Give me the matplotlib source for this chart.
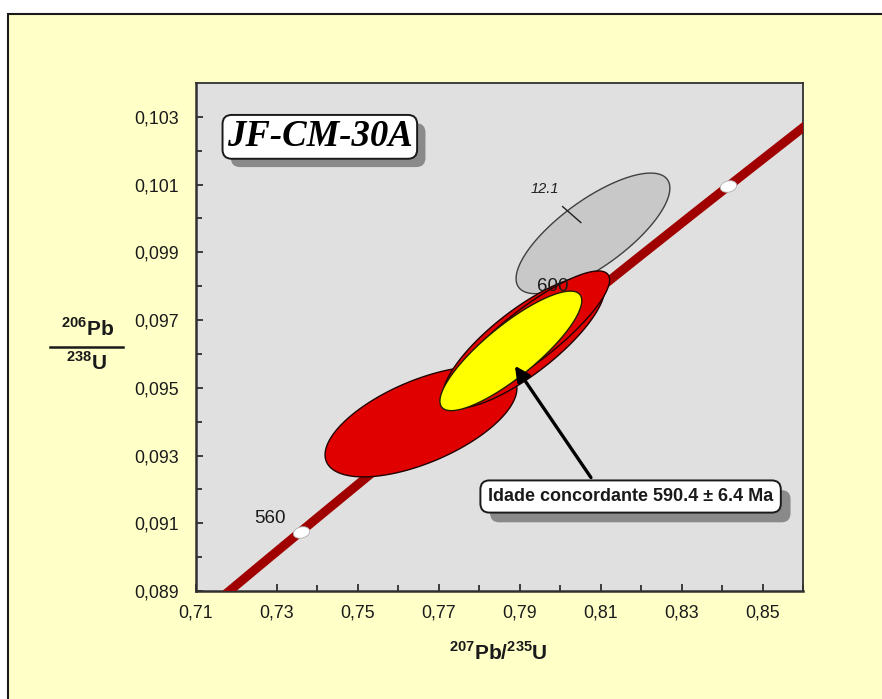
import numpy as np
import matplotlib
matplotlib.use("Agg")
import matplotlib.pyplot as plt
from matplotlib.patches import Rectangle
from matplotlib.lines import Line2D
from matplotlib.markers import MarkerStyle
from matplotlib.transforms import Affine2D
import matplotlib.patheffects as pe

plt.rcParams['font.family'] = ['Liberation Sans', 'DejaVu Sans']
plt.rcParams['mathtext.fontset'] = 'custom'
plt.rcParams['mathtext.rm'] = 'Liberation Sans'
plt.rcParams['mathtext.bf'] = 'Liberation Sans:bold'

# ---------------- data ----------------
x_ticks = [0.71, 0.73, 0.75, 0.77, 0.79, 0.81, 0.83, 0.85]
x_tick_labels = ['0,71', '0,73', '0,75', '0,77', '0,79', '0,81', '0,83', '0,85']
y_ticks = [0.089, 0.091, 0.093, 0.095, 0.097, 0.099, 0.101, 0.103]
y_tick_labels = ['0,089', '0,091', '0,093', '0,095', '0,097', '0,099', '0,101', '0,103']
x_limits = [0.71, 0.86]
y_limits = [0.089, 0.104]

# concordia
lambda_238 = 1.55125e-10
lambda_235 = 9.8485e-10
concordia_ages_ma = np.linspace(500, 700, 400)
marker_ages_ma = [560, 580, 600, 620]
age_labels = ['560', '600']
age_label_x = [0.7283, 0.7982]
age_label_y = [0.09115, 0.0980]

# error ellipses: centre, half-extents, correlation
ell_names = ['12.1', 'red_a', 'red_b', 'red_c', 'concordia_age']
ell_cx = [0.8081, 0.7656, 0.7910, 0.7925, 0.7878]
ell_cy = [0.09956, 0.0940, 0.09635, 0.09655, 0.09609]
ell_hx = [0.0190, 0.0237, 0.0200, 0.0197, 0.01753]
ell_hy = [0.00178, 0.00163, 0.00195, 0.00190, 0.001765]
ell_rho = [0.75, 0.60, 0.80, 0.86, 0.84]
ell_face = ['#C8C8C8', '#E00000', '#E00000', '#E00000', '#FFFF00']
ell_edge = ['#404040', '#200000', '#200000', '#200000', '#202000']
ell_z = [2, 4, 4.3, 4.5, 5]

sample_label = '12.1'
sample_label_xy = (0.7962, 0.10088)
sample_leader_x = [0.8006, 0.8051]
sample_leader_y = [0.10035, 0.09988]

title = 'JF-CM-30A'
title_xy = (0.7406, 0.10241)
result_text = 'Idade concordante 590.4 ± 6.4 Ma'
result_xy = (0.8174, 0.09179)
arrow_tail = (0.8076, 0.09235)
arrow_head = (0.7888, 0.09565)


def ellipse_pts(cx, cy, hx, hy, rho, n=300):
    th = np.linspace(0, 2 * np.pi, n)
    x = cx + hx * np.cos(th)
    y = cy + hy * (rho * np.cos(th) + np.sqrt(1 - rho ** 2) * np.sin(th))
    return x, y


# ---------------- figure ----------------
fig = plt.figure(figsize=(8.82, 6.99), dpi=100, facecolor='white')
frame = Rectangle((8 / 882, -0.02), 1.0, 1 - 14 / 699 + 0.02, transform=fig.transFigure,
                  facecolor='#FFFFC8', edgecolor='#1a1a1a', linewidth=1.5, zorder=-10)
fig.patches.append(frame)

ax = fig.add_axes([196 / 882, 1 - 591 / 699, (803 - 196) / 882, (591 - 83) / 699])
ax.set_facecolor('#E0E0E0')
ax.set_xlim(*x_limits)
ax.set_ylim(*y_limits)

ax.set_xticks(x_ticks)
ax.set_xticklabels(x_tick_labels)
ax.set_yticks(y_ticks)
ax.set_yticklabels(y_tick_labels)
ax.set_xticks(np.arange(0.72, 0.86, 0.02), minor=True)
ax.set_yticks(np.arange(0.090, 0.104, 0.002), minor=True)
ax.tick_params(which='both', direction='in', colors='#202020', labelsize=12.8,
               labelcolor='#1a1a1a')
ax.tick_params(which='major', length=5, width=1.2, pad=10)
ax.tick_params(which='minor', length=4, width=1.2)
ax.tick_params(axis='y', pad=12)
for s in ax.spines.values():
    s.set_color('#303030')
    s.set_linewidth(1.3)
ax.spines['left'].set_linewidth(1.8)
ax.spines['bottom'].set_linewidth(1.8)

# ellipses
for i in range(len(ell_names)):
    ex, ey = ellipse_pts(ell_cx[i], ell_cy[i], ell_hx[i], ell_hy[i], ell_rho[i])
    ax.fill(ex, ey, facecolor=ell_face[i], edgecolor=ell_edge[i], linewidth=1.0,
            zorder=ell_z[i])

# concordia
t = np.array(concordia_ages_ma) * 1e6
cx = np.exp(lambda_235 * t) - 1
cy = np.exp(lambda_238 * t) - 1
ax.plot(cx, cy, color='#A00000', linewidth=6.5, solid_capstyle='butt', zorder=3)
tm = np.array(marker_ages_ma) * 1e6
mk = MarkerStyle('o', transform=Affine2D().scale(1.5, 1.0).rotate_deg(15))
ax.plot(np.exp(lambda_235 * tm) - 1, np.exp(lambda_238 * tm) - 1, linestyle='none',
        marker=mk, markersize=8, markerfacecolor='white', markeredgecolor='#B0B0B0',
        markeredgewidth=0.6, zorder=3.2)
for lab, lx, ly in zip(age_labels, age_label_x, age_label_y):
    ax.text(lx, ly, lab, fontsize=13.5, color='#1a1a1a', ha='center', va='center',
            zorder=4.7)

# sample label
ax.text(*sample_label_xy, sample_label, fontsize=10.5, style='italic', color='#202020',
        ha='center', va='center', zorder=6)
ax.plot(sample_leader_x, sample_leader_y, color='#202020', linewidth=1.0, zorder=6)

# title box
tt = ax.text(*title_xy, title, fontsize=26.5, fontweight='bold', style='italic',
             family=['Liberation Serif', 'DejaVu Serif'], ha='center', va='center',
             zorder=8,
             bbox=dict(boxstyle='round,pad=0.12,rounding_size=0.25', facecolor='white',
                       edgecolor='#1a1a1a', linewidth=1.4))
tt.get_bbox_patch().set_path_effects([
    pe.SimplePatchShadow(offset=(6, -6), shadow_rgbFace='#8a8a8a', alpha=1.0),
    pe.Normal()])

# arrow
ax.annotate('', xy=arrow_head, xytext=arrow_tail, zorder=9,
            arrowprops=dict(arrowstyle='-|>,head_length=0.9,head_width=0.45',
                            color='black', linewidth=2.4, shrinkA=0, shrinkB=0))

# result box
rt = ax.text(*result_xy, result_text, fontsize=13, fontweight='bold', color='#1a1a1a',
             ha='center', va='center', zorder=10,
             bbox=dict(boxstyle='round,pad=0.42,rounding_size=0.5', facecolor='white',
                       edgecolor='#1a1a1a', linewidth=1.4))
rt.get_bbox_patch().set_path_effects([
    pe.SimplePatchShadow(offset=(7, -7), shadow_rgbFace='#8a8a8a', alpha=1.0),
    pe.Normal()])

# axis labels
fig.text(498 / 882, 1 - 652 / 699, r'$^{\mathbf{207}}$Pb/$^{\mathbf{235}}$U',
         fontsize=15, fontweight='bold', ha='center', va='center', color='#1a1a1a')
fig.text(88 / 882, 1 - 329 / 699, r'$^{\mathbf{206}}$Pb', fontsize=15,
         fontweight='bold', ha='center', va='center', color='#1a1a1a')
fig.text(86 / 882, 1 - 362 / 699, r'$^{\mathbf{238}}$U', fontsize=15,
         fontweight='bold', ha='center', va='center', color='#1a1a1a')
fig.add_artist(Line2D([50 / 882, 123 / 882], [1 - 347 / 699, 1 - 347 / 699],
                      transform=fig.transFigure, color='#1a1a1a', linewidth=1.8))

fig.savefig('out.png', dpi=100)
